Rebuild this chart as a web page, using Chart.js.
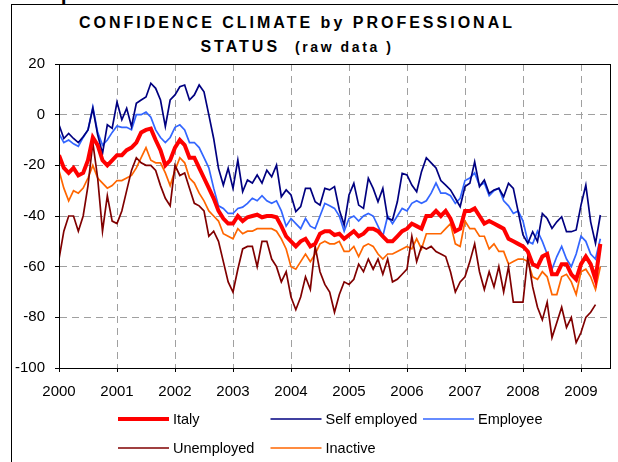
<!DOCTYPE html>
<html>
<head>
<meta charset="utf-8">
<script src="https://cdn.jsdelivr.net/npm/chart.js"></script>
<style>
  body { margin: 0; background: #fff; }
  #quadro { position: absolute; left: 11px; top: 4px; width: 700px; height: 600px; border: 1px solid #000; }
  #pedaco { position: absolute; left: 61px; top: -17px; font: bold 20px "Liberation Serif", serif; line-height: 20px; color: #000; }
  .titulo { position: absolute; left: 0; width: 594px; text-align: center; font-family: "Liberation Sans", Arial, sans-serif; font-weight: bold; color: #000; letter-spacing: 3px; line-height: 18px; }
  #grafico1 { position: absolute; left: 0; top: 0; }
</style>
</head>
<body>
<div id="quadro"></div>
<div id="pedaco">p</div>
<div class="titulo" style="top:14px; font-size:16px;">CONFIDENCE CLIMATE by PROFESSIONAL</div>
<div class="titulo" style="top:38px; font-size:16px;">STATUS&nbsp;&nbsp;<span style="font-size:14px; letter-spacing:2.6px;">(raw data )</span></div>
<canvas id="grafico1" width="618" height="462"></canvas>
<script>
// anos do eixo x (um tick a cada 12 meses, jan/2000 = mes 0)
var anos = [2000, 2001, 2002, 2003, 2004, 2005, 2006, 2007, 2008, 2009];
var ticksY = [20, 0, -20, -40, -60, -80, -100];

var nomesSeries = ['Italy', 'Self employed', 'Employee', 'Unemployed', 'Inactive'];
var coresSeries = ['#ff0000', '#000080', '#3366ff', '#800000', '#ff6600'];

// valores mensais (jan/2000 .. mai/2009)
var italy = [
  -16, -21, -23, -21, -24, -23, -18, -9, -12, -18, -20, -18, -16, -16, -14, -13, -11, -7, -6, -5.5,
  -10, -14, -20, -18, -13, -10, -12, -17, -17, -21, -25, -29, -33, -38, -41, -43, -43, -40, -42,
  -40.5, -40, -39.5, -40.5, -40, -40, -40.5, -44, -48, -50, -52, -50, -49, -52, -51, -47, -46, -46, -47.5,
  -47, -49, -47.5, -46, -48, -47, -45, -45, -46, -48, -50, -50, -48, -46, -45, -43, -44, -45,
  -40, -40, -38, -40, -38, -41, -46, -45, -38, -38, -37, -40, -43, -42, -43, -44, -45, -49, -50,
  -51, -52, -54, -59, -60, -56, -55, -63, -63, -59, -59, -63, -65, -59, -56, -59, -65, -51
];
var selfEmployed = [
  -4, -9.4, -7.4, -9.4, -11, -8.7, -6, 2.5, -8, -15.3, -4, -5.4, 5, -2, 2.5, -4.7, 4.5, 5.8, 7, 12.4,
  10.4, 5.8, -4.7, 5.8, 7.8, 11, 11.7, 5.8, 7.8, 11.7, 9, -0.1, -9.4, -21.2, -27.8, -21.2, -29.1, -17.9, -30.4,
  -25.8, -27, -23.8, -27, -21.9, -24.5, -19.9, -32.4, -29.7, -31.7, -38.3, -36.3, -29.1, -29.1, -34.4, -35.7, -29.1, -29.7, -28.4,
  -37.6, -43.6, -31.7, -27.1, -35.7, -37, -25.1, -29.1, -34.4, -29.1, -40.9, -41.6, -34.4, -23.2, -23.8, -27.8, -30.4, -22.5,
  -17, -19, -21, -26, -27.8, -29.7, -33, -36.3, -28.4, -27.1, -18.6, -28.4, -25.8, -31.1, -29.7, -29.1, -32.4, -27.1, -29.1,
  -38.3, -47.5, -50.8, -46.2, -50.1, -39, -41, -44.9, -42.3, -40.3, -46.2, -46.2, -45.5, -35.7, -27.8, -42.3, -50.8, -39.6
];
var employee = [
  -7.5, -11, -10, -11.5, -12.5, -9, -6, 3, -7, -12, -10, -7, -4.5, -5, -5, -6, 0, 0, 1, -1,
  -6, -9, -11, -9, -5, -4, -6, -11, -11, -13, -17, -21, -29, -36, -37, -39, -39, -37, -36.5,
  -35, -33, -34, -32, -34, -35, -34, -38, -44, -41, -43, -45, -41, -44, -45, -40, -35, -36, -37,
  -40, -46, -41, -40, -42, -40, -39, -40, -44, -48, -40, -43, -40, -37, -38, -35, -34, -35,
  -34, -31, -27, -31, -31, -32, -35, -33, -26, -25, -23, -28, -27, -32, -30, -29, -34, -36, -39,
  -38, -42, -50, -51, -46, -50, -55, -61, -56, -52, -57, -60, -55, -48, -50, -55, -57, -49
];
var unemployed = [
  -57, -46, -40, -40, -46, -40, -28, -11, -25, -46, -32, -42, -43, -38, -30, -22, -17, -19, -20, -20,
  -22, -28, -33, -36, -20, -24, -23, -29, -35, -36, -38, -48, -46, -50, -58, -66, -70, -61, -53,
  -52, -52, -60, -50, -50, -57, -60, -66, -62, -72, -77, -72, -64, -69, -52, -62, -67, -70, -78,
  -71, -66, -67, -65, -59, -62, -57, -61, -57, -63, -57, -66, -65, -63, -61, -48, -58, -52,
  -53, -52, -54, -55, -56, -62, -70, -66, -64, -58, -51, -62, -69, -62, -68, -60, -70, -60, -74,
  -74, -74, -56, -68, -76, -81, -74, -88, -82, -76, -84, -80, -90, -86, -80, -78, -75
];
var inactive = [
  -22, -29, -34, -30, -31, -29, -25, -20, -25, -27, -29, -28, -26, -26, -25, -24, -21, -17, -13, -18,
  -19, -19, -23, -28, -22, -17, -19, -25, -27, -31, -34, -38, -40, -42, -47, -48, -49, -45, -47,
  -46, -46, -45, -45, -45, -45, -46, -49, -53, -60, -61, -58, -55, -58, -55, -51, -50, -51, -51,
  -50, -54, -54, -52, -56, -52, -51, -52, -55, -57, -55, -55, -54, -53, -52, -53, -49, -53,
  -47, -47, -47, -47, -45, -43, -51, -52, -42, -45, -45, -48, -48, -53, -51, -54, -54, -59, -58,
  -57, -57, -58, -64, -65, -62, -64, -71, -71, -64, -63, -66, -71, -62, -61, -64, -69, -60
];

var todasSeries = [italy, selfEmployed, employee, unemployed, inactive];
var espessuras = [4, 1.7, 1.7, 1.7, 1.7];

// meses como rotulos numericos (eixo x linear)
var listaMeses = [];
for (var i = 0; i < italy.length; i++) {
  listaMeses.push(i);
}

var conjuntos = [];
for (var s = 0; s < todasSeries.length; s++) {
  conjuntos.push({
    label: nomesSeries[s],
    data: todasSeries[s],
    borderColor: coresSeries[s],
    backgroundColor: coresSeries[s],
    borderWidth: espessuras[s],
    pointRadius: 0,
    tension: 0,
    fill: false
  });
}

Chart.defaults.font.family = '"Liberation Sans", Arial, sans-serif';
Chart.defaults.color = '#000';

// caixa preta em volta da area do grafico
var pluginCaixa = {
  id: 'caixa',
  afterDatasetsDraw: function (chart) {
    var ctx = chart.ctx;
    var a = chart.chartArea;
    ctx.save();
    ctx.strokeStyle = '#000';
    ctx.lineWidth = 1;
    ctx.strokeRect(Math.round(a.left) + 0.5, Math.round(a.top) + 0.5, Math.round(a.right - a.left), Math.round(a.bottom - a.top));
    ctx.restore();
  }
};

// legenda em duas linhas, tres colunas
var pluginLegenda = {
  id: 'legendaManual',
  afterDraw: function (chart) {
    var ctx = chart.ctx;
    ctx.save();
    ctx.font = '14.5px "Liberation Sans", Arial, sans-serif';
    ctx.textBaseline = 'middle';
    ctx.fillStyle = '#000';
    chart.data.datasets.forEach(function (ds, i) {
      var col = i % 3;
      var lin = Math.floor(i / 3);
      var x0 = 118 + col * 152.5;
      var y0 = 419 + lin * 29;
      ctx.strokeStyle = ds.borderColor;
      ctx.lineWidth = ds.borderWidth;
      ctx.beginPath();
      ctx.moveTo(x0, y0);
      ctx.lineTo(x0 + 51, y0);
      ctx.stroke();
      ctx.fillText(ds.label, x0 + 55, y0 + 1);
    });
    ctx.restore();
  }
};

var grafico1 = document.getElementById('grafico1');

new Chart(grafico1, {
  type: 'line',
  data: {
    labels: listaMeses,
    datasets: conjuntos
  },
  options: {
    responsive: false,
    animation: false,
    layout: { padding: { left: 0, right: 8, top: 64, bottom: 64 } },
    plugins: {
      legend: { display: false },
      title: { display: false },
      tooltip: { enabled: false }
    },
    scales: {
      x: {
        type: 'linear',
        min: 0,
        max: 114,
        afterBuildTicks: function (eixo) {
          eixo.ticks = anos.map(function (a) { return { value: (a - anos[0]) * 12 }; });
        },
        afterFit: function (eixo) { eixo.height = 30; },
        ticks: {
          font: { size: 15 },
          padding: 11,
          maxRotation: 0,
          autoSkip: false,
          callback: function (v) { return String(anos[0] + v / 12); }
        },
        grid: { color: '#a0a0a0', lineWidth: 1, tickColor: '#000', tickLength: 4, tickBorderDash: [] },
        border: { color: '#000', dash: [7, 5] }
      },
      y: {
        min: -100,
        max: 20,
        afterBuildTicks: function (eixo) {
          eixo.ticks = ticksY.map(function (v) { return { value: v }; });
        },
        afterFit: function (eixo) { eixo.width = 59; },
        ticks: { font: { size: 15 }, padding: 10 },
        grid: { color: '#a0a0a0', lineWidth: 1, tickColor: '#000', tickLength: 4, tickBorderDash: [] },
        border: { color: '#000', dash: [7, 5] }
      }
    }
  },
  plugins: [pluginCaixa, pluginLegenda]
});
</script>
</body>
</html>
